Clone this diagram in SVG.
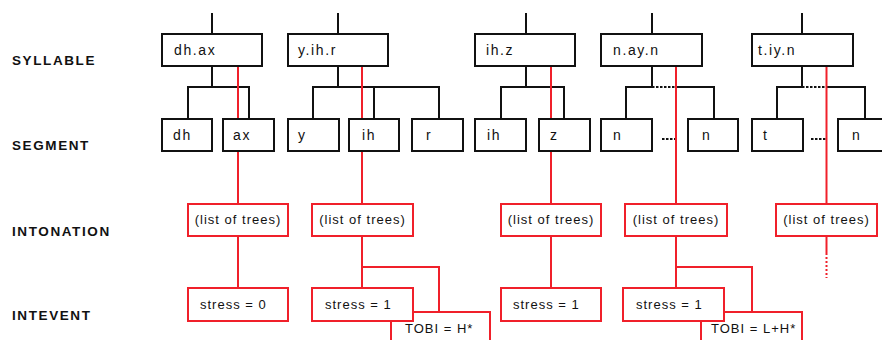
<svg xmlns="http://www.w3.org/2000/svg" width="882" height="340" viewBox="0 0 882 340">
<style>
.lbl{font-family:"Liberation Sans",Arial,sans-serif;font-size:13.5px;letter-spacing:1.6px;fill:#111;font-weight:bold}
.t1{font-family:"Liberation Sans",Arial,sans-serif;font-size:14px;letter-spacing:1.6px;fill:#111}
.t2{font-family:"Liberation Sans",Arial,sans-serif;font-size:13px;letter-spacing:1px;fill:#111}
.bk{fill:#fff;stroke:#111;stroke-width:2}
.rd{fill:#fff;stroke:#f0202a;stroke-width:2}
.cb{fill:none;stroke:#111;stroke-width:2}
.cr{fill:none;stroke:#f0202a;stroke-width:2}
.dotb{fill:none;stroke:#111;stroke-width:2;stroke-dasharray:2.5 1.5}
.dotr{fill:none;stroke:#f0202a;stroke-width:2;stroke-dasharray:2 2}
</style>
<rect width="882" height="340" fill="#fff"/>
<g id="labels">
<text class="lbl" x="12" y="65">SYLLABLE</text>
<text class="lbl" x="12" y="150">SEGMENT</text>
<text class="lbl" x="12" y="236">INTONATION</text>
<text class="lbl" x="12" y="320">INTEVENT</text>
</g>
<g id="connectors">
<!-- top stubs -->
<path class="cb" d="M212 13V34M338 13V34M526 13V34M652 13V34M802 13V34"/>
<!-- dh.ax -->
<path class="cb" d="M212 66V87M188 119V87H249V119"/>
<!-- y.ih.r -->
<path class="cb" d="M338 66V87M313 119V87H439V119M374 87V119"/>
<!-- ih.z -->
<path class="cb" d="M526 66V87M501 119V87H564V119"/>
<!-- n.ay.n -->
<path class="cb" d="M652 66V87M626 119V87H652M677 87H714V119"/>
<path class="dotb" d="M652 87H677"/>
<path class="dotb" d="M662 139H676"/>
<!-- t.iy.n -->
<path class="cb" d="M802 66V87M777 119V87H802M826 87H865V119"/>
<path class="dotb" d="M802 87H826"/>
<path class="dotb" d="M811 139H826"/>
<!-- red -->
<path class="cr" d="M238 66V288"/>
<path class="cr" d="M362 66V288M362 267H439V312"/>
<path class="cr" d="M551 66V288"/>
<path class="cr" d="M676 66V288M676 267H752V312"/>
<path class="cr" d="M826.5 66V255"/>
<path class="dotr" d="M826.5 257V278"/>
</g>
<g id="syl-dhax"><rect class="bk" x="162" y="34" width="100" height="32"/><text class="t1" x="174" y="55">dh.ax</text></g>
<g id="syl-yihr"><rect class="bk" x="288" y="34" width="100" height="32"/><text class="t1" x="298" y="55">y.ih.r</text></g>
<g id="syl-ihz"><rect class="bk" x="475" y="34" width="100" height="32"/><text class="t1" x="486" y="55">ih.z</text></g>
<g id="syl-nayn"><rect class="bk" x="601" y="34" width="101" height="32"/><text class="t1" x="613" y="55">n.ay.n</text></g>
<g id="syl-tiyn"><rect class="bk" x="752" y="34" width="101" height="32"/><text class="t1" x="758" y="55">t.iy.n</text></g>
<g id="seg-dh"><rect class="bk" x="162" y="119" width="50" height="32"/><text class="t1" x="173" y="140">dh</text></g>
<g id="seg-ax"><rect class="bk" x="223" y="119" width="51" height="32"/><text class="t1" x="233" y="140">ax</text></g>
<g id="seg-y"><rect class="bk" x="288" y="119" width="51" height="32"/><text class="t1" x="298" y="140">y</text></g>
<g id="seg-ih"><rect class="bk" x="349" y="119" width="50" height="32"/><text class="t1" x="362" y="140">ih</text></g>
<g id="seg-r"><rect class="bk" x="412" y="119" width="51" height="32"/><text class="t1" x="426" y="140">r</text></g>
<g id="seg-ih2"><rect class="bk" x="475" y="119" width="51" height="32"/><text class="t1" x="487" y="140">ih</text></g>
<g id="seg-z"><rect class="bk" x="539" y="119" width="51" height="32"/><text class="t1" x="550" y="140">z</text></g>
<g id="seg-n1"><rect class="bk" x="601" y="119" width="51" height="32"/><text class="t1" x="613" y="140">n</text></g>
<g id="seg-n2"><rect class="bk" x="688" y="119" width="50" height="32"/><text class="t1" x="702" y="140">n</text></g>
<g id="seg-t"><rect class="bk" x="752" y="119" width="51" height="32"/><text class="t1" x="763" y="140">t</text></g>
<g id="seg-n3"><rect class="bk" x="838" y="119" width="51" height="32"/><text class="t1" x="852" y="140">n</text></g>
<g id="int-1"><rect class="rd" x="188" y="204" width="100" height="32"/><text class="t2" x="238" y="224" text-anchor="middle">(list of trees)</text></g>
<g id="int-2"><rect class="rd" x="312" y="204" width="101" height="32"/><text class="t2" x="362.5" y="224" text-anchor="middle">(list of trees)</text></g>
<g id="int-3"><rect class="rd" x="501" y="204" width="100" height="32"/><text class="t2" x="551" y="224" text-anchor="middle">(list of trees)</text></g>
<g id="int-4"><rect class="rd" x="625" y="204" width="102" height="32"/><text class="t2" x="676" y="224" text-anchor="middle">(list of trees)</text></g>
<g id="int-5"><rect class="rd" x="776" y="204" width="101" height="32"/><text class="t2" x="826.5" y="224" text-anchor="middle">(list of trees)</text></g>
<g id="tobi-1"><rect class="rd" x="391" y="312" width="99" height="40"/><text class="t2" x="405" y="333">TOBI = H*</text></g>
<g id="tobi-2"><rect class="rd" x="701" y="312" width="101" height="40"/><text class="t2" x="711" y="333">TOBI = L+H*</text></g>
<g id="ev-1"><rect class="rd" x="188" y="288" width="100" height="33"/><text class="t2" x="200" y="309">stress = 0</text></g>
<g id="ev-2"><rect class="rd" x="312" y="288" width="101" height="33"/><text class="t2" x="325" y="309">stress = 1</text></g>
<g id="ev-3"><rect class="rd" x="501" y="288" width="100" height="33"/><text class="t2" x="513" y="309">stress = 1</text></g>
<g id="ev-4"><rect class="rd" x="623" y="288" width="101" height="33"/><text class="t2" x="636" y="309">stress = 1</text></g>
</svg>
